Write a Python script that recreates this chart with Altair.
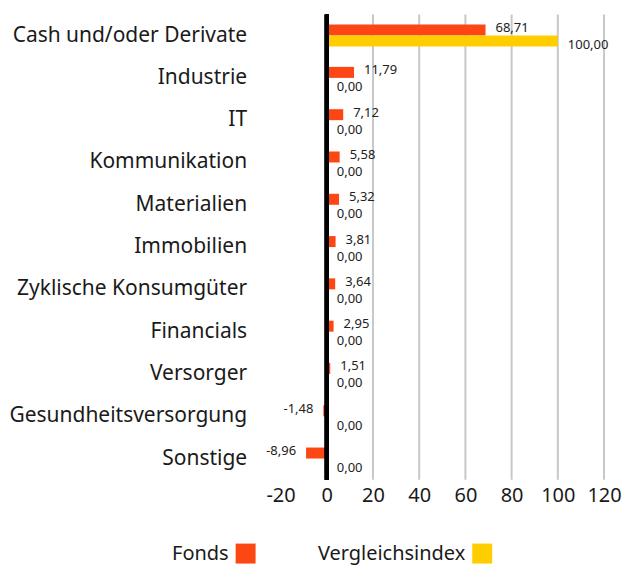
import altair as alt
import pandas as pd

categories = ["Cash und/oder Derivate", "Industrie", "IT", "Kommunikation", "Materialien",
              "Immobilien", "Zyklische Konsumgüter", "Financials", "Versorger",
              "Gesundheitsversorgung", "Sonstige"]
fonds = [68.71, 11.79, 7.12, 5.58, 5.32, 3.81, 3.64, 2.95, 1.51, -1.48, -8.96]
vergleich = [100.00, 0.00, 0.00, 0.00, 0.00, 0.00, 0.00, 0.00, 0.00, 0.00, 0.00]
series_names = ["Fonds", "Vergleichsindex"]
colors = ["#fc4714", "#ffcd00"]
x_ticks = [-20, 0, 20, 40, 60, 80, 100, 120]
grid_values = [20, 40, 60, 80, 100, 120]

FONT = "Noto Sans"

rows = []
for c, f, v in zip(categories, fonds, vergleich):
    rows.append({"cat": c, "series": "Fonds", "value": f})
    rows.append({"cat": c, "series": "Vergleichsindex", "value": v})
df = pd.DataFrame(rows)
grid_df = pd.DataFrame({"v": grid_values})

xscale = alt.Scale(domain=[-20, 120], nice=False, zero=False)
yscale = alt.Scale(domain=categories, paddingInner=0.48, paddingOuter=0.24)
color_scale = alt.Scale(domain=series_names, range=colors)

x_enc = alt.X("value:Q", scale=xscale,
              axis=alt.Axis(values=x_ticks, grid=False, domain=False, ticks=False,
                            title=None, labelFontSize=20, labelPadding=6,
                            labelColor="#1a1a1a", labelFont=FONT, labelOverlap=False,
                            labelFlush=False,
                            labelExpr="replace(datum.label, '\u2212', '-')"))
y_enc = alt.Y("cat:N", sort=categories, scale=yscale,
              axis=alt.Axis(title=None, domain=False, ticks=False, labelFontSize=21,
                            labelPadding=34, labelColor="#1a1a1a", labelFont=FONT,
                            labelLimit=400))
yoff = alt.YOffset("series:N", sort=series_names,
                   scale=alt.Scale(domain=series_names, paddingInner=0, paddingOuter=0))

base = alt.Chart(df).transform_calculate(
    label="replace(replace(format(datum.value, '.2f'), '.', ','), '\u2212', '-')"
)

grid = alt.Chart(grid_df).mark_rule(color="#c8c8c8", strokeWidth=2).encode(
    x=alt.X("v:Q", scale=xscale)
)

bars = base.mark_bar().encode(
    x=x_enc, y=y_enc, yOffset=yoff,
    color=alt.Color("series:N", scale=color_scale, legend=None),
)

zero = alt.Chart(grid_df).mark_rule(color="#000000", strokeWidth=4).encode(x=alt.datum(0))

lab_pos = base.transform_filter(
    "datum.series == 'Fonds' && datum.value >= 0"
).mark_text(align="left", dx=10, dy=-2, fontSize=13, color="#222222", font=FONT).encode(
    x="value:Q", y=alt.Y("cat:N", sort=categories), yOffset=yoff, text="label:N"
)
lab_neg = base.transform_filter(
    "datum.series == 'Fonds' && datum.value < 0"
).mark_text(align="right", dx=-10, dy=-2, fontSize=13, color="#222222", font=FONT).encode(
    x="value:Q", y=alt.Y("cat:N", sort=categories), yOffset=yoff, text="label:N"
)
lab_idx = base.transform_filter(
    "datum.series == 'Vergleichsindex'"
).mark_text(align="left", dx=10, dy=4, fontSize=13, color="#222222", font=FONT).encode(
    x="value:Q", y=alt.Y("cat:N", sort=categories), yOffset=yoff, text="label:N"
)

main = alt.layer(grid, bars, zero, lab_pos, lab_neg, lab_idx).properties(width=324, height=466)

leg_df = pd.DataFrame({"series": series_names})
leg_base = alt.Chart(leg_df).encode(
    x=alt.X("series:N", sort=series_names,
            scale=alt.Scale(type="point", domain=series_names, range=[-35, 202], padding=0),
            axis=None)
)
leg_sq = leg_base.mark_square(size=400, opacity=1).encode(
    color=alt.Color("series:N", scale=color_scale, legend=None)
)
leg_tx = leg_base.mark_text(align="right", dx=-17, fontSize=20, color="#1a1a1a", font=FONT).encode(
    text="series:N"
)
legend = alt.layer(leg_sq, leg_tx).properties(width=324, height=20)

chart = alt.vconcat(main, legend, spacing=38).properties(
    padding={"left": 0, "top": 4, "right": 0, "bottom": 5}
).configure_view(stroke=None)

chart.save("out.html", embed_options={"renderer": "svg", "actions": False})
